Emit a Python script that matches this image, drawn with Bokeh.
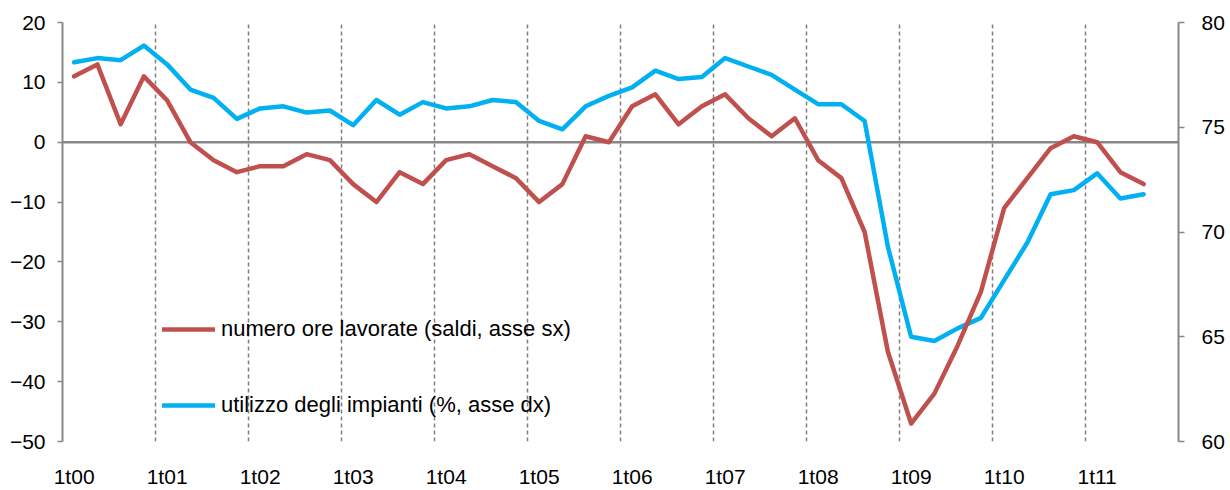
from bokeh.plotting import figure
from bokeh.models import Range1d, LinearAxis, FixedTicker, Span, Legend, LegendItem
from bokeh.embed import file_html
from bokeh.resources import INLINE

# 48 quarterly categories, 1t00 .. 4t11
quarters = [f"{q}t{y:02d}" for y in range(0, 12) for q in range(1, 5)]
tick_labels = ["1t00", "1t01", "1t02", "1t03", "1t04", "1t05",
               "1t06", "1t07", "1t08", "1t09", "1t10", "1t11"]

# numero ore lavorate (saldi, asse sx) 1t00 .. 3t11
ore = [11, 13, 3, 11, 7, 0, -3, -5, -4, -4, -2, -3,
       -7, -10, -5, -7, -3, -2, -4, -6, -10, -7, 1, 0,
       6, 8, 3, 6, 8, 4, 1, 4, -3, -6, -15, -35,
       -47, -42, -34, -25, -11, -6, -1, 1, 0, -5, -7]

# utilizzo degli impianti (%, asse dx) 1t00 .. 3t11
impianti = [78.1, 78.3, 78.2, 78.9, 78.0, 76.8, 76.4, 75.4, 75.9, 76.0, 75.7, 75.8,
            75.1, 76.3, 75.6, 76.2, 75.9, 76.0, 76.3, 76.2, 75.3, 74.9, 76.0, 76.5,
            76.9, 77.7, 77.3, 77.4, 78.3, 77.9, 77.5, 76.8, 76.1, 76.1, 75.3, 69.3,
            65.0, 64.8, 65.4, 65.9, 67.7, 69.5, 71.8, 72.0, 72.8, 71.6, 71.8]

left_ticks = [-50, -40, -30, -20, -10, 0, 10, 20]
right_ticks = [60, 65, 70, 75, 80]

label_ore = "numero ore lavorate (saldi, asse sx)"
label_imp = "utilizzo degli impianti (%, asse dx)"

FONT = "Liberation Sans"
GREY = "#878787"
RED = "#C0504D"
BLUE = "#00B0F0"

n = len(quarters)
x_ore = [quarters.index(q) for q in quarters[:len(ore)]]
x_imp = [quarters.index(q) for q in quarters[:len(impianti)]]

p = figure(width=1230, height=490, output_backend="svg", toolbar_location=None,
           x_range=Range1d(-0.5, n - 0.5), y_range=Range1d(left_ticks[0], left_ticks[-1]),
           min_border_left=62, min_border_right=52, min_border_top=22, min_border_bottom=48)
p.extra_y_ranges = {"dx": Range1d(right_ticks[0], right_ticks[-1])}
p.outline_line_color = None
p.background_fill_color = "white"
p.border_fill_color = "white"

# grid: dashed vertical separators between years
p.ygrid.visible = False
p.xgrid.ticker = FixedTicker(ticks=[i - 0.5 for i in range(4, n, 4)])
p.xgrid.grid_line_color = "#7f7f7f"
p.xgrid.grid_line_dash = "4 3"
p.xgrid.grid_line_width = 1.5

# x axis
xa = p.xaxis[0]
xa.ticker = FixedTicker(ticks=[quarters.index(t) for t in tick_labels])
xa.major_label_overrides = {quarters.index(t): t for t in tick_labels}
xa.axis_line_color = None
xa.major_tick_line_color = None
xa.minor_tick_line_color = None
xa.major_tick_out = 0
xa.major_tick_in = 0
xa.major_label_standoff = 23
xa.major_label_text_font = FONT
xa.major_label_text_font_size = "21px"
xa.major_label_text_color = "black"

# left axis
ya = p.yaxis[0]
ya.ticker = FixedTicker(ticks=left_ticks)
ya.axis_line_color = GREY
ya.axis_line_width = 2
ya.major_tick_line_color = GREY
ya.major_tick_line_width = 1.5
ya.major_tick_in = 0
ya.major_tick_out = 5
ya.minor_tick_line_color = None
ya.major_label_standoff = 12
ya.major_label_text_font = FONT
ya.major_label_text_font_size = "21px"
ya.major_label_text_color = "black"

# right axis
ra = LinearAxis(y_range_name="dx", ticker=FixedTicker(ticks=right_ticks))
ra.axis_line_color = GREY
ra.axis_line_width = 2
ra.major_tick_line_color = GREY
ra.major_tick_line_width = 1.5
ra.major_tick_in = 0
ra.major_tick_out = 6
ra.minor_tick_line_color = None
ra.major_label_standoff = 17
ra.major_label_text_font = FONT
ra.major_label_text_font_size = "21px"
ra.major_label_text_color = "black"
p.add_layout(ra, "right")

# zero line
p.add_layout(Span(location=0, dimension="width", line_color=GREY, line_width=2.5, level="underlay"))

r_imp = p.line(x_imp, impianti, y_range_name="dx", line_color=BLUE, line_width=4.5,
               line_join="round", line_cap="round")
r_ore = p.line(x_ore, ore, line_color=RED, line_width=4.5,
               line_join="round", line_cap="round")

legend = Legend(items=[LegendItem(label=label_ore, renderers=[r_ore]),
                       LegendItem(label=label_imp, renderers=[r_imp])],
                location=(100, 23), orientation="vertical",
                glyph_width=53, glyph_height=20, label_height=20, label_standoff=6,
                spacing=50, padding=0, margin=0,
                border_line_color=None, background_fill_alpha=0,
                label_text_font=FONT, label_text_font_size="22px",
                label_text_color="black")
p.add_layout(legend)

open("out.html", "w").write(file_html(p, INLINE))
